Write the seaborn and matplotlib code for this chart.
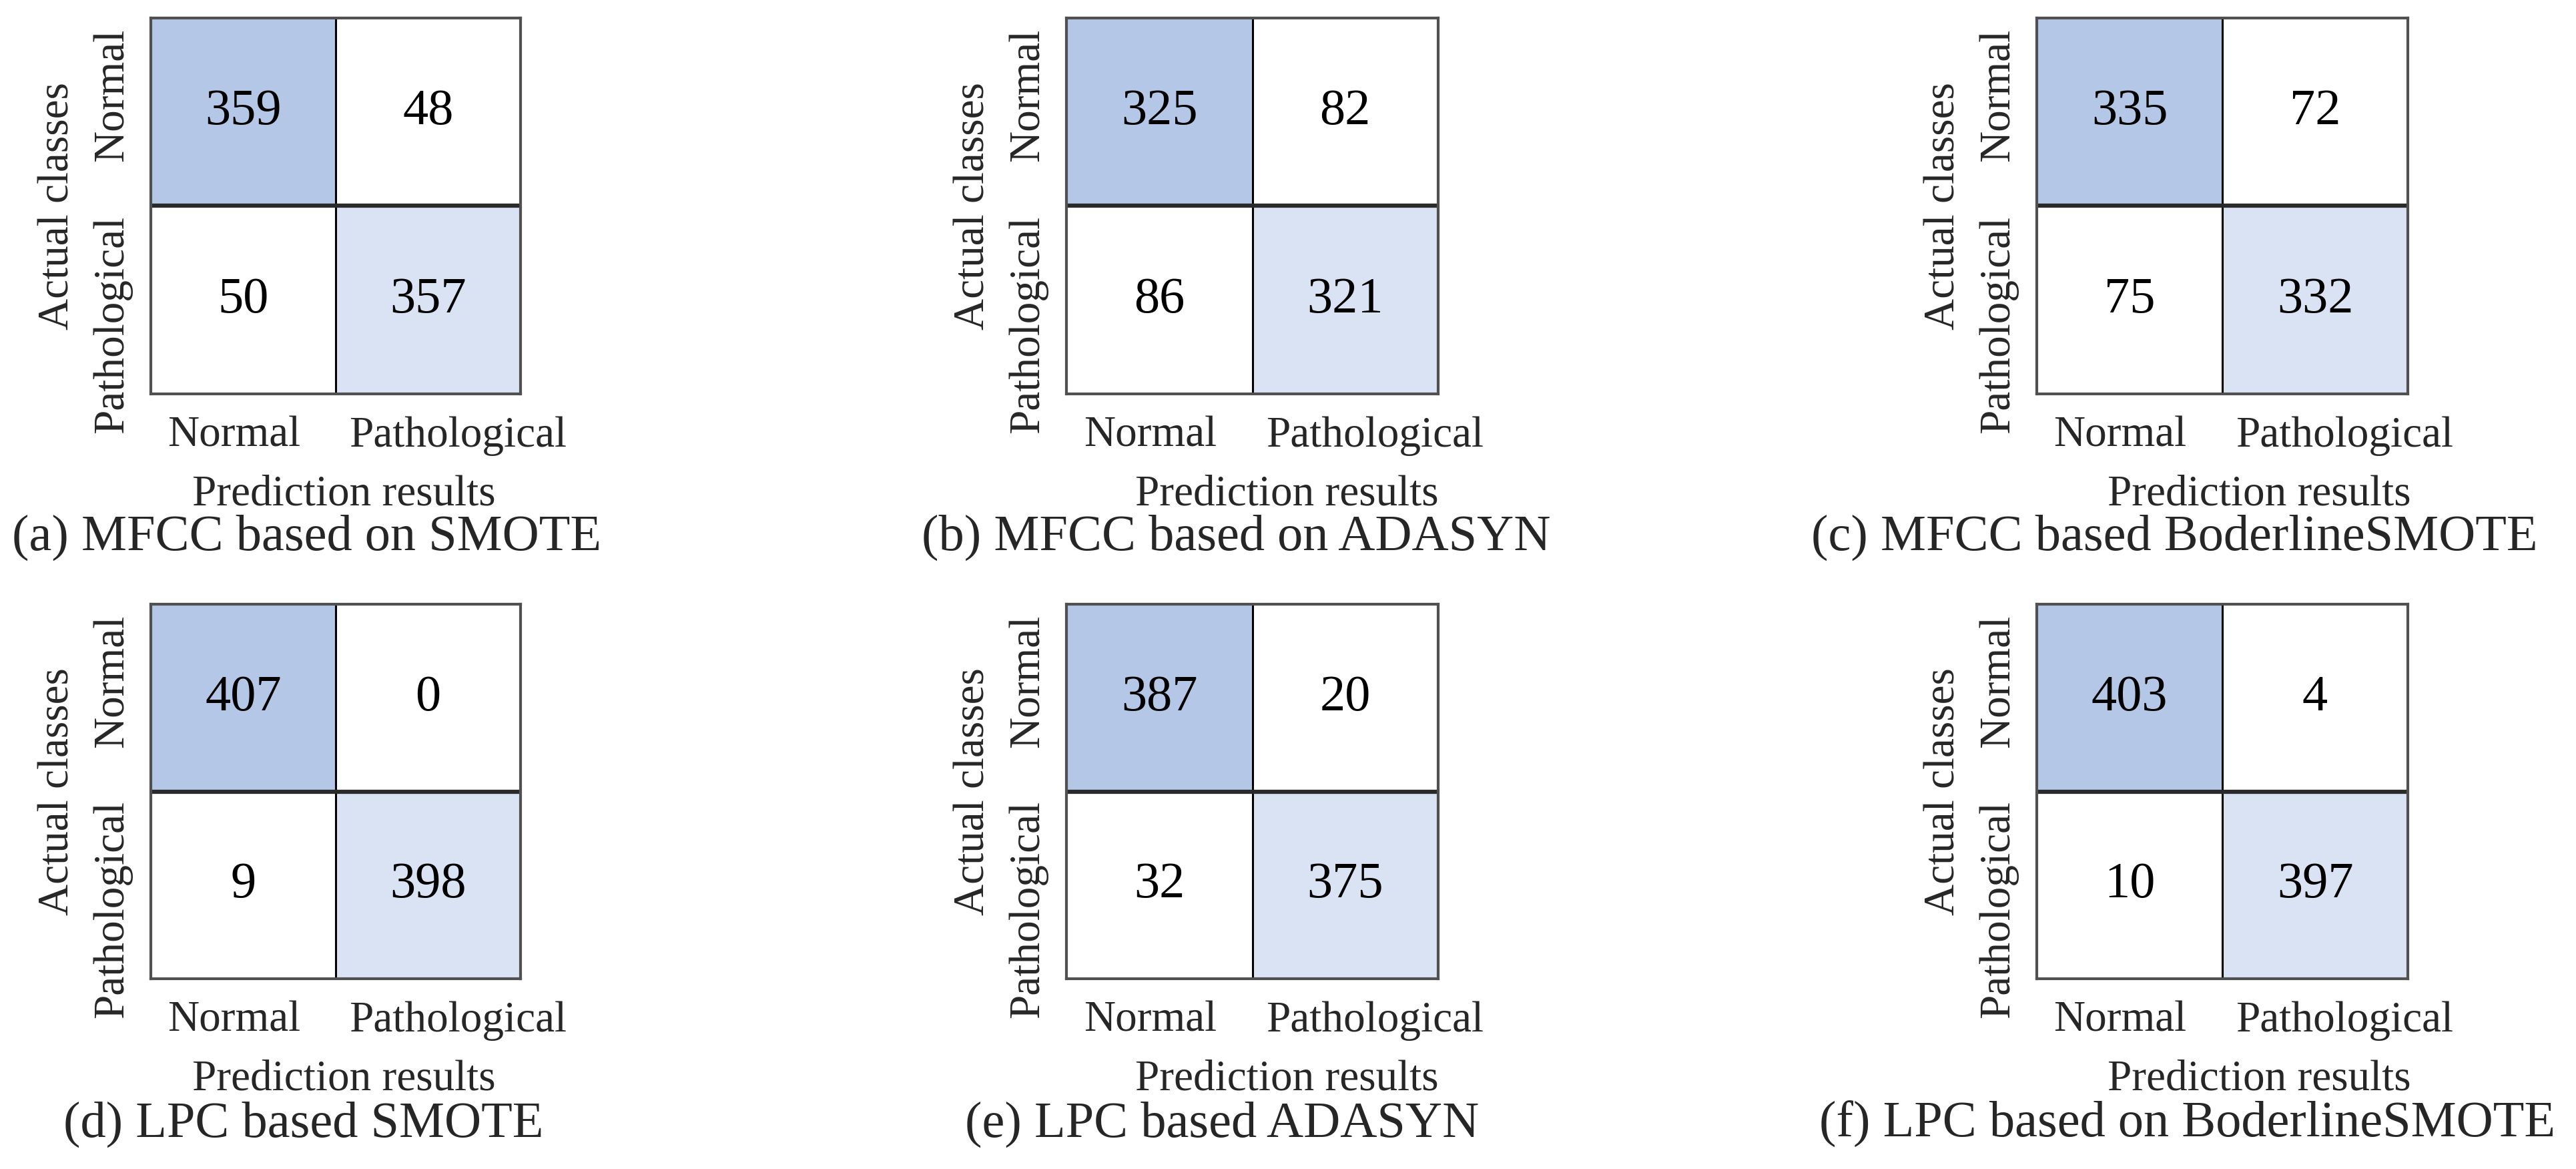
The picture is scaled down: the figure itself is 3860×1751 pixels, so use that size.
import matplotlib
matplotlib.use('Agg')
import matplotlib.pyplot as plt
import seaborn as sns
import numpy as np
from matplotlib.colors import ListedColormap

# confusion matrices, rows = actual, cols = predicted
cm_a = [[359, 48], [50, 357]]
cm_b = [[325, 82], [86, 321]]
cm_c = [[335, 72], [75, 332]]
cm_d = [[407, 0], [9, 398]]
cm_e = [[387, 20], [32, 375]]
cm_f = [[403, 4], [10, 397]]

classes = ['Normal', 'Pathological']
captions = ['(a) MFCC based on SMOTE', '(b) MFCC based on ADASYN', '(c) MFCC based BoderlineSMOTE',
            '(d) LPC based SMOTE', '(e) LPC based ADASYN', '(f) LPC based on BoderlineSMOTE']
matrices = [cm_a, cm_b, cm_c, cm_d, cm_e, cm_f]

# cell shading is by position: TN dark blue, TP light blue, errors white
shade = np.array([[2, 0], [0, 1]])
cmap = ListedColormap(['#FFFFFF', '#DAE3F3', '#B4C7E7'])

sns.set_style('white')
plt.rcParams['font.family'] = ['Liberation Serif', 'DejaVu Serif']

W, H = 3860, 1751
fig = plt.figure(figsize=(W / 100, H / 100), dpi=100)

# box pixel extents (x0, x1) and (y0, y1)
cols = [(226, 780), (1598, 2155), (3052, 3608)]
rows = [(27, 590), (905, 1466)]
xlab_x = [0.523, 0.593, 0.599]
cap_x = [459, 1852, 3258, 455, 1831, 3277]
cap_y = [805, 1684]
# tick labels in the original sit a little off the cell centres
xoff = np.array([-0.05, 0.16])
yoff = np.array([-0.09, 0.13])

for i, (cm, cap) in enumerate(zip(matrices, captions)):
    r, c = divmod(i, 3)
    x0, x1 = cols[c]
    y0, y1 = rows[r]
    ax = fig.add_axes([x0 / W, 1 - y1 / H, (x1 - x0) / W, (y1 - y0) / H])
    sns.heatmap(shade, annot=np.array(cm), fmt='d', cmap=cmap, vmin=0, vmax=2, cbar=False,
                linewidths=0, ax=ax, annot_kws=dict(fontsize=55, color='black'))
    ax.axvline(1, color='black', lw=2.2)
    ax.axhline(1, color='#2a2a2a', lw=4.5)
    for s in ax.spines.values():
        s.set_visible(True)
        s.set_color('#505050')
        s.set_linewidth(3)
    ax.set_xticks(np.arange(2) + 0.5 + xoff, classes, rotation=0, fontsize=47)
    ax.set_yticks(np.arange(2) + 0.5 + yoff, classes, rotation=90, va='center', fontsize=47)
    ax.tick_params(length=0)
    ax.tick_params(axis='x', pad=24)
    ax.tick_params(axis='y', pad=20)
    ax.set_xlabel('Prediction results', fontsize=47)
    ax.set_ylabel('Actual classes', fontsize=47, labelpad=16)
    ax.xaxis.set_label_coords(xlab_x[c], -0.215)
    fig.text(cap_x[i] / W, 1 - cap_y[r] / H, cap, fontsize=55, ha='center', va='center')

fig.savefig('out.png', dpi=100, facecolor='white')
